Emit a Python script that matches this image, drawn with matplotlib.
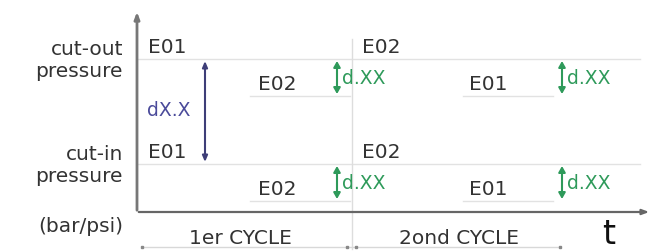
import matplotlib
matplotlib.use("Agg")
import matplotlib.pyplot as plt

# schematic levels (pixel-like units, y grows downward)
cut_out = 60
cut_in = 165
drop = 37
x_axis_y = 213
y_axis_x = 137
cycle_split = 352
cycle_end = 560

# state labels per cycle
cycle_names = ["1er CYCLE", "2ond CYCLE"]
cycle_centers = [240, 459]
high_labels = ["E01", "E02"]
low_labels = ["E02", "E01"]
high_x = [148, 362]
low_x = [258, 469]
low_line_x = [(250, 350), (463, 553)]
dxx_x = [337, 562]

grey_txt = "#333333"
green = "#2e9a5a"
blue = "#3e3e78"

fig = plt.figure(figsize=(6.54, 2.53), dpi=100)
ax = fig.add_axes([0, 0, 1, 1])
ax.set_xlim(0, 654)
ax.set_ylim(253, 0)
ax.axis("off")

fs = 14.5
# level lines
ax.plot([y_axis_x, 640], [cut_out, cut_out], color="#e2e2e2", lw=1)
ax.plot([y_axis_x, 640], [cut_in, cut_in], color="#e2e2e2", lw=1)
for (a, b) in low_line_x:
    ax.plot([a, b], [cut_out + drop, cut_out + drop], color="#e2e2e2", lw=1)
    ax.plot([a, b], [cut_in + drop, cut_in + drop], color="#e2e2e2", lw=1)

# cycle divider
ax.plot([cycle_split, cycle_split], [40, 250], color="#dddddd", lw=1)

# axes
ax.annotate("", xy=(y_axis_x, 10), xytext=(y_axis_x, x_axis_y + 1),
            arrowprops=dict(arrowstyle="-|>,head_length=0.4,head_width=0.15",
                            color="#777777", lw=2))
ax.annotate("", xy=(652, x_axis_y), xytext=(y_axis_x - 1, x_axis_y),
            arrowprops=dict(arrowstyle="-|>,head_length=0.4,head_width=0.15",
                            color="#666666", lw=1.6))

# state labels
for i in range(2):
    ax.text(high_x[i], cut_out - 3, high_labels[i], fontsize=fs, color=grey_txt,
            ha="left", va="bottom")
    ax.text(low_x[i], cut_out + drop - 3, low_labels[i], fontsize=fs, color=grey_txt,
            ha="left", va="bottom")
    ax.text(high_x[i], cut_in - 3, high_labels[i], fontsize=fs, color=grey_txt,
            ha="left", va="bottom")
    ax.text(low_x[i], cut_in + drop - 3, low_labels[i], fontsize=fs, color=grey_txt,
            ha="left", va="bottom")

# differential arrows
for xx in dxx_x:
    for lvl in (cut_out, cut_in):
        ax.annotate("", xy=(xx, lvl + 2), xytext=(xx, lvl + drop - 2),
                    arrowprops=dict(arrowstyle="<|-|>,head_length=0.35,head_width=0.2",
                                    color=green, lw=1.5, shrinkA=0, shrinkB=0))
        ax.text(xx + 5, lvl + drop / 2, "d.XX", fontsize=fs - 1, color=green,
                ha="left", va="center")

# range arrow
ax.annotate("", xy=(205, cut_out + 2), xytext=(205, cut_in - 2),
            arrowprops=dict(arrowstyle="<|-|>,head_length=0.35,head_width=0.15",
                            color=blue, lw=1.5, shrinkA=0, shrinkB=0))
ax.text(147, 110, "dX.X", fontsize=fs - 1, color="#4a4a9a", ha="left", va="center")

# y labels
ax.text(123, cut_out, "cut-out\npressure", fontsize=fs, color=grey_txt,
        ha="right", va="center", linespacing=1.2)
ax.text(123, cut_in, "cut-in\npressure", fontsize=fs, color=grey_txt,
        ha="right", va="center", linespacing=1.2)
ax.text(123, 227, "(bar/psi)", fontsize=fs, color=grey_txt, ha="right", va="center")

# cycle span
ax.plot([142, cycle_end], [248, 248], color="#d8d8d8", lw=1)
ax.plot([142, 347, 356, cycle_end], [248] * 4, ls="none", marker="s", ms=1.5,
        color="#888888")
for name, cx in zip(cycle_names, cycle_centers):
    ax.text(cx, 239, name, fontsize=fs, color=grey_txt, ha="center", va="center")

ax.text(609, 235, "t", fontsize=24, color="#111111", ha="center", va="center")

fig.savefig("out.png", dpi=100)
